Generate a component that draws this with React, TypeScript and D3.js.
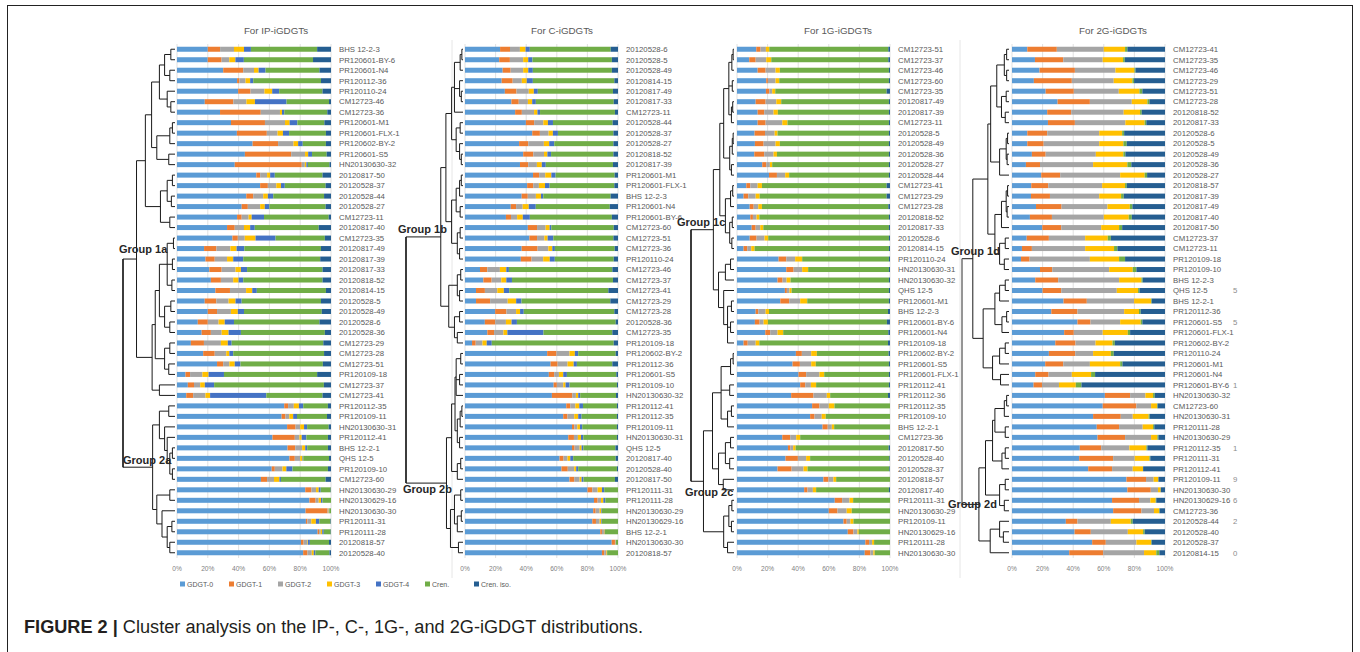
import React from 'react';
import * as d3 from 'd3';

// iGDGT components and their Excel colours
const components = ['GDGT-0', 'GDGT-1', 'GDGT-2', 'GDGT-3', 'GDGT-4', 'Cren.', 'Cren. iso.'];
const colors = ['#5B9BD5', '#ED7D31', '#A5A5A5', '#FFC000', '#4472C4', '#70AD47', '#255E91'];
const tickValues = [0, 0.2, 0.4, 0.6, 0.8, 1];

// ---- IP-iGDGTs ----
const ipLabels = ['BHS 12-2-3', 'PR120601-BY-6', 'PR120601-N4', 'PR120112-36', 'PR120110-24', 'CM12723-46', 'CM12723-36', 'PR120601-M1', 'PR120601-FLX-1', 'PR120602-BY-2', 'PR120601-S5', 'HN20130630-32', '20120817-50', '20120528-37', '20120528-44', '20120528-27', 'CM12723-11', '20120817-40', 'CM12723-35', '20120817-49', '20120817-39', '20120817-33', '20120818-52', '20120814-15', '20120528-5', '20120528-49', '20120528-6', '20120528-36', 'CM12723-29', 'CM12723-28', 'CM12723-51', 'PR120109-18', 'CM12723-37', 'CM12723-41', 'PR120112-35', 'PR120109-11', 'HN20130630-31', 'PR120112-41', 'BHS 12-2-1', 'QHS 12-5', 'PR120109-10', 'CM12723-60', 'HN20130630-29', 'HN20130629-16', 'HN20130630-30', 'PR120111-31', 'PR120111-28', '20120818-57', '20120528-40'];
const ipValues = [
  [20, 8, 9, 6.5, 4.5, 43, 9], [20, 9, 5, 4, 5.5, 45, 11.7], [30, 13, 7, 3, 4.5, 35, 7.5], [39, 1.5, 4, 3, 2, 44, 6.5],
  [39.5, 8, 9, 5, 4.5, 28, 5.5], [18, 18.5, 8.5, 5.5, 20.5, 27.5, 1.3], [28, 26.5, 12.5, 1.3, 1.5, 28, 2.4], [35, 22, 13, 3, 5, 17.5, 4.3],
  [39, 19.5, 7, 3.5, 4, 24, 3.3], [49, 16.5, 10, 3, 3, 15, 3.3], [44, 30, 9, 2, 2.5, 9.5, 2.8], [37.5, 43.5, 2, 1, 1, 14, 1],
  [51.5, 2.5, 4.5, 2, 3, 31, 5.5], [54, 5, 5.5, 3, 2.5, 26.5, 3.5], [45, 4.5, 6.5, 3, 3.5, 33, 4.5], [42, 4, 8, 3, 3, 36.5, 3.5],
  [39, 3, 4.5, 2, 8, 42, 1.5], [32.5, 5, 6, 4, 3, 41.5, 8], [36, 3.5, 4.5, 7, 13, 32, 4], [17.5, 8, 9, 4, 5, 49.5, 6.5],
  [18.5, 6, 8, 4, 6.5, 50, 7], [21, 8, 9, 3.5, 4, 49, 5.5], [22, 6.5, 8, 3.5, 3, 51.5, 5.5], [25, 9.5, 10.5, 4, 3, 45, 3.3],
  [18, 7.5, 8, 4.5, 4, 51.5, 6.5], [20, 6, 9, 4.5, 4, 50.5, 6], [13.5, 6.5, 7, 4, 6, 55.5, 7.5], [16, 6, 7, 4.5, 8, 54.5, 4],
  [9, 8.5, 11, 4.5, 2.5, 59.5, 5], [17, 7.5, 7.5, 2, 2.5, 59, 4.5], [26, 4, 4, 3.5, 3.7, 53.5, 5.3], [5.5, 3, 8, 4, 10, 60.5, 9],
  [7, 4, 4, 3, 6, 71, 4.6], [6, 4.5, 8, 3, 36.5, 36.5, 5.5], [69.5, 2.5, 3.7, 3.3, 2.8, 16, 2], [68, 2.5, 2.5, 2.5, 2.5, 19.5, 2.6],
  [71.5, 5.5, 3, 2.5, 2, 14, 1.5], [62, 14.5, 3, 1.5, 3, 14, 2], [72, 5, 4.5, 2, 1.3, 13.5, 2], [73, 3.5, 3.5, 1.5, 0.5, 16.7, 1.3],
  [61.5, 2, 5, 2.5, 4, 23, 2], [54.5, 4, 4.5, 3.5, 1, 29, 3.5], [83.3, 4, 3, 1.7, 1.3, 6.5, 0.2], [86, 4, 2, 1.5, 1, 5.5, 0],
  [83.5, 14.3, 0.5, 0.3, 0.3, 1.1, 0], [83.7, 1, 2.5, 3, 2.2, 7.3, 0.3], [91.3, 1, 1, 1, 1, 4.5, 0.2], [80.5, 1.7, 2.4, 0.4, 1.3, 12.4, 1.3],
  [82, 2.8, 2.8, 1.3, 1, 9.2, 1],
];
// dendrogram: [height, ...children], a leaf is a row index
const ipTree = [1,
  [0.74,
    [0.57,
      [0.45, [0.3, [0.2, [0.08, 0, 1], [0.1, 2, 3]], [0.15, 4, [0.08, 5, 6]]], [0.35, [0.1, [0.05, 7, 8], 9], [0.12, 10, 11]]],
      [0.28, [0.15, [0.05, 12, 13], [0.07, 14, 15]], [0.1, 16, 17]]],
    [0.44,
      [0.38, [0.3, [0.15, [0.03, 18, 19], [0.05, 20, 21], [0.06, 22, 23]], [0.2, [0.08, 24, 25], [0.1, 26, 27]]], [0.2, [0.1, 28, 29], [0.12, 30, 31]]],
      [0.3, 32, 33]]],
  [0.43,
    [0.3, [0.12, 34, 35], [0.2, 36, [0.15, 37, [0.1, [0.05, 38, 39], [0.05, 40, 41]]]]],
    [0.35, [0.1, 42, 43], [0.25, 44, [0.15, [0.06, 45, 46], [0.1, 47, 48]]]]],
];

// ---- C-iGDGTs ----
const cLabels = ['20120528-6', '20120528-5', '20120528-49', '20120814-15', '20120817-49', '20120817-33', 'CM12723-11', '20120528-44', '20120528-37', '20120528-27', '20120818-52', '20120817-39', 'PR120601-M1', 'PR120601-FLX-1', 'BHS 12-2-3', 'PR120601-N4', 'PR120601-BY-6', 'CM12723-60', 'CM12723-51', 'CM12723-36', 'PR120110-24', 'CM12723-46', 'CM12723-37', 'CM12723-41', 'CM12723-29', 'CM12723-28', '20120528-36', 'CM12723-35', 'PR120109-18', 'PR120602-BY-2', 'PR120112-36', 'PR120601-S5', 'PR120109-10', 'HN20130630-32', 'PR120112-41', 'PR120112-35', 'PR120109-11', 'HN20130630-31', 'QHS 12-5', '20120817-40', '20120528-40', '20120817-50', 'PR120111-31', 'PR120111-28', 'HN20130630-29', 'HN20130629-16', 'BHS 12-2-1', 'HN20130630-30', '20120818-57'];
const cValues = [
  [23, 6.5, 6.5, 3.7, 2.8, 53, 4.8], [22.4, 7, 8.7, 3.3, 2.8, 52, 4], [24.6, 5.2, 8.2, 3.3, 3, 51.6, 4], [24, 7.2, 6, 3.2, 4, 53.3, 2.4],
  [26, 7.6, 8, 3.3, 2.6, 49, 3.3], [30.4, 4.8, 6, 2.8, 2.4, 51, 2.8], [32.8, 4.4, 8, 2.2, 1.7, 49, 2], [39.8, 5.4, 6, 3, 3.3, 39, 3.5],
  [44, 5, 5.7, 2.8, 3.3, 36.3, 3], [35.4, 6, 10.2, 3.5, 3.3, 38.7, 3], [38, 6.6, 7, 2.2, 2.4, 40.7, 3], [36, 5.4, 5.7, 3.2, 2.6, 44, 3.3],
  [44.6, 4, 4, 4, 2.8, 38.7, 2.2], [40.7, 4, 3.7, 4, 3, 42.4, 2.4], [37, 4, 5.3, 3.3, 1.5, 44, 4.8], [30, 3.5, 4.3, 4, 4.6, 48.5, 5.4],
  [26.7, 3.3, 4, 3.7, 4.6, 53.5, 4], [41, 6, 5.6, 2.6, 1.1, 40.7, 2.8], [42, 5, 4.8, 2.1, 3.7, 39.2, 3], [37, 10.4, 7, 2.6, 1.7, 39, 2.2],
  [36.5, 7, 7.6, 4.3, 3.3, 38.5, 2.8], [9.8, 4.8, 8.2, 4.2, 1.7, 67.6, 3.7], [12, 5.4, 6.3, 3.3, 3.7, 66, 3.3], [7.2, 5.8, 8.1, 4.3, 3.5, 64.8, 6.3],
  [7.2, 9.2, 11.5, 5.5, 3.5, 58, 5], [19.7, 7.4, 6.3, 2.6, 2.4, 59.2, 2.4], [13, 6.8, 7, 3.7, 3.5, 64.7, 1.5], [14.6, 4.4, 6.1, 2.6, 23.6, 45, 3.7],
  [4.6, 2.4, 4.4, 2.8, 3.3, 79.7, 2.8], [53.7, 6.1, 8.5, 3.5, 2.2, 24.5, 1.5], [56, 4.6, 6.5, 4, 2.1, 23.2, 3.7], [54.8, 3.5, 3.1, 2.8, 2.4, 32.3, 1.1],
  [58, 2.1, 4.2, 1.5, 2.6, 31, 0.7], [56.8, 13.3, 2.4, 1.5, 1.3, 23.4, 1.3], [66.2, 2.6, 3.3, 2.6, 2.4, 22.2, 0.7], [64.2, 2.8, 4.4, 2.6, 2.2, 23.1, 0.7],
  [70, 1.5, 2, 1.7, 1.5, 22.7, 0.7], [67.5, 3.7, 2.6, 2, 1.5, 22, 0.7], [70, 1.7, 3.3, 1.3, 1.1, 21, 1.7], [61.8, 2.6, 2.6, 1.8, 1.9, 27.8, 1.5],
  [63, 4.1, 4.2, 1.3, 1.3, 25.3, 0.7], [68.3, 3.1, 3.5, 1.3, 1.3, 20.5, 2], [80, 3.1, 3.5, 2.8, 1.5, 9, 0], [84.3, 2.4, 2.2, 1.5, 1.3, 8.3, 0],
  [83.8, 1.6, 2.6, 1.1, 0.4, 10.5, 0], [83.2, 2.4, 2.4, 1.1, 0.4, 10.5, 0], [88.4, 1.1, 1.3, 0.5, 0.2, 8.5, 0], [95.9, 2.1, 0.4, 0.2, 0.1, 1.3, 0],
  [89.5, 1.5, 1.4, 0.4, 0.1, 7.1, 0],
];
const cTree = [1,
  [0.39,
    [0.3,
      [0.2, [0.15, [0.05, [0.02, 0, 1], 2], [0.06, 3, [0.03, 4, 5]], 6], [0.12, [0.05, 7, 8], [0.06, 9, [0.03, 10, 11]]]],
      [0.2, [0.12, [0.06, [0.03, 12, 13], 14], [0.05, 15, 16]], [0.1, [0.05, 17, 18], [0.06, 19, 20]]]],
    [0.25, [0.1, [0.04, 21, 22], [0.06, 23, 24]], [0.15, [0.06, 25, 26], [0.1, 27, 28]]]],
  [0.29,
    [0.2, [0.14, [0.12, [0.04, 29, 30], [0.06, 31, 32], 33], [0.1, [0.05, [0.02, 34, 35], 36], [0.06, 37, 38]]], [0.1, [0.04, 39, 40], 41]],
    [0.22, [0.15, [0.04, 42, 43], [0.1, [0.03, 44, 45], 46]], [0.08, 47, 48]]],
];

// ---- 1G-iGDGTs ----
const g1Labels = ['CM12723-51', 'CM12723-37', 'CM12723-46', 'CM12723-60', 'CM12723-35', '20120817-49', '20120817-39', 'CM12723-11', '20120528-5', '20120528-49', '20120528-36', '20120528-27', '20120528-44', 'CM12723-41', 'CM12723-29', 'CM12723-28', '20120818-52', '20120817-33', '20120528-6', '20120814-15', 'PR120110-24', 'HN20130630-31', 'HN20130630-32', 'QHS 12-5', 'PR120601-M1', 'BHS 12-2-3', 'PR120601-BY-6', 'PR120601-N4', 'PR120109-18', 'PR120602-BY-2', 'PR120601-S5', 'PR120601-FLX-1', 'PR120112-41', 'PR120112-36', 'PR120112-35', 'PR120109-10', 'BHS 12-2-1', 'CM12723-36', '20120817-50', '20120528-40', '20120528-37', '20120818-57', '20120817-40', 'PR120111-31', 'HN20130630-29', 'PR120109-11', 'HN20130629-16', 'PR120111-28', 'HN20130630-30'];
const g1Values = [
  [12.6, 2.8, 3.5, 2.2, 0, 77.8, 1.1], [8, 4.2, 6.9, 3.3, 0, 76.5, 1.1], [13.5, 5.2, 6.5, 2.8, 0, 71.3, 0.7], [19.1, 1.1, 5, 2.4, 0, 71.7, 0.7],
  [18.9, 2.2, 1.9, 2, 0, 72.8, 2.2], [12.2, 6.5, 7, 3.2, 0, 70.4, 0.7], [13.5, 4.3, 6.1, 2.8, 0, 72.6, 0.7], [13.5, 5.2, 10.9, 3.4, 0, 66.3, 0.7],
  [11.5, 6.8, 6.3, 1.9, 0, 72.8, 0.7], [11.7, 5.7, 7.8, 2.8, 0, 71.3, 0.7], [11.3, 6.5, 6.1, 2.2, 0, 73.2, 0.7], [16.5, 2.6, 2.4, 1.5, 0, 76.3, 0.7],
  [20.9, 5.2, 5.4, 2.6, 0, 65.2, 0.7], [6.1, 2.6, 4.8, 2.8, 0, 81.5, 2.2], [4.3, 3.1, 4.8, 2.6, 0, 83, 2.2], [8.3, 2.6, 3, 2.4, 0, 82.6, 1.1],
  [8.7, 1.7, 2.4, 1.8, 0, 84.7, 0.7], [9.6, 2.6, 3, 2, 0, 82.1, 0.7], [8.3, 4.5, 5.2, 2.4, 0, 78.9, 0.7], [4.3, 2.4, 2.6, 2.2, 0, 87.8, 0.7],
  [27.2, 5, 5.8, 4.6, 0, 56.7, 0.7], [32.2, 4.8, 5.6, 3.9, 0, 52.8, 0.7], [26.5, 3.3, 2.6, 2.6, 0, 64.3, 0.7], [31.3, 1.3, 1.7, 1.4, 0, 63.6, 0.7],
  [28.3, 5.8, 7.2, 4.6, 0, 53.4, 0.7], [12.2, 1.7, 4.8, 2.2, 0, 77.8, 1.3], [11.7, 3.1, 2.6, 2.8, 0, 77.8, 2], [18.5, 3.2, 4.8, 3.7, 0, 68.7, 1.1],
  [4.3, 2.7, 5.2, 2.4, 0, 84.1, 1.3], [38.5, 3.9, 6.1, 3.7, 0, 46.9, 0.9], [36.3, 4.8, 7.4, 3, 0, 47.8, 0.7], [40.2, 5, 8.7, 3.1, 0, 42.3, 0.7],
  [41.3, 3.3, 3.7, 3.4, 0, 47.6, 0.7], [35.4, 14.6, 8.7, 2.2, 0, 37.8, 1.3], [49.1, 4.8, 6.1, 3.7, 0, 36.3, 0], [47.8, 2.9, 4.7, 2.6, 0, 42, 0],
  [55.9, 3.4, 2.7, 1.5, 0, 36.5, 0], [29.6, 5.2, 3.9, 2.6, 0, 58.3, 0.4], [33.3, 1.5, 1.9, 1.6, 0, 60.8, 0.9], [31.7, 8.1, 5.4, 2.6, 0, 51.8, 0.4],
  [26.5, 9.2, 7.8, 2.6, 0, 53.5, 0.4], [56.5, 3.3, 3.2, 1.8, 0, 35.2, 0], [43.9, 2.2, 3.5, 2.1, 0, 47.6, 0.7], [63.9, 4.8, 4.8, 2.4, 0, 24.1, 0],
  [60, 5.7, 6, 3.3, 0, 25, 0], [69.6, 2.1, 2.4, 2, 0, 23.9, 0], [72.4, 3.7, 2.6, 0.9, 0, 20.4, 0], [83.9, 2.4, 2, 1.3, 0, 10.4, 0],
  [83.5, 3.7, 1.9, 0.9, 0, 10, 0],
];
const g1Tree = [1,
  [0.48,
    [0.33,
      [0.24, [0.12, [0.05, [0.02, 0, 1], 2], [0.04, 3, 4], [0.06, [0.03, 5, 6], 7]], [0.1, [0.04, [0.02, 8, 9], 10], [0.06, 11, 12]]],
      [0.2, [0.08, [0.03, 13, 14], 15], [0.1, [0.04, 16, 17], [0.05, 18, 19]]]],
    [0.36, [0.2, [0.08, 20, 21], 22], [0.24, 23, [0.15, [0.06, 24, 25], [0.08, 26, 27], 28]]]],
  [0.71,
    [0.5, [0.3, [0.08, [0.02, 29, 30], 31], [0.1, 32, 33], [0.15, [0.06, 34, 35], 36]], [0.36, [0.2, [0.08, 37, 38], [0.1, 39, 40]], [0.25, 41, 42]]],
    [0.24, [0.12, [0.05, 43, 44], [0.06, 45, 46]], [0.15, 47, 48]]],
];

// ---- 2G-iGDGTs ----
const g2Labels = ['CM12723-41', 'CM12723-35', 'CM12723-46', 'CM12723-29', 'CM12723-51', 'CM12723-28', '20120818-52', '20120817-33', '20120528-6', '20120528-5', '20120528-49', '20120528-36', '20120528-27', '20120818-57', '20120817-39', '20120817-49', '20120817-40', '20120817-50', 'CM12723-37', 'CM12723-11', 'PR120109-18', 'PR120109-10', 'BHS 12-2-3', 'QHS 12-5', 'BHS 12-2-1', 'PR120112-36', 'PR120601-S5', 'PR120601-FLX-1', 'PR120602-BY-2', 'PR120110-24', 'PR120601-M1', 'PR120601-N4', 'PR120601-BY-6', 'HN20130630-32', 'CM12723-60', 'HN20130630-31', 'PR120111-28', 'HN20130630-29', 'PR120112-35', 'PR120111-31', 'PR120112-41', 'PR120109-11', 'HN20130630-30', 'HN20130629-16', 'CM12723-36', '20120528-44', '20120528-40', '20120528-37', '20120814-15'];
const g2Values = [
  [10, 19.3, 30.7, 13.9, 0, 1.5, 24.6], [15, 18.5, 25.8, 13.3, 0, 1.1, 26.3], [18, 23.1, 26.5, 12.4, 0, 0.7, 19.3], [14.3, 24.8, 27.4, 12.2, 0, 1.1, 20.2],
  [22, 18.4, 29.4, 13.5, 0, 1.9, 14.8], [29.8, 21.1, 27.4, 10.2, 0, 1.3, 10.2], [23, 15.7, 34.3, 10.7, 0, 1.1, 15.2], [23.5, 17.6, 33, 12.6, 0, 1.1, 12.2],
  [10, 13, 34, 15, 0, 1.3, 26.7], [10, 10.7, 36.3, 15.8, 0, 2.2, 25], [13, 9, 32.8, 18, 0, 1.3, 25.9], [9.1, 9.2, 34.7, 22.4, 0, 2.6, 22],
  [19.1, 12.4, 39.2, 16, 0, 1.6, 11.7], [12.6, 11.1, 35.2, 15, 0, 1.1, 25], [12.4, 12.4, 32.2, 14.3, 0, 1.7, 27], [15.7, 16.7, 30, 14.6, 0, 1.7, 21.3],
  [11.7, 14.4, 33.9, 16.3, 0, 2, 21.7], [19.8, 12.4, 26.1, 11.7, 0, 2, 28], [9.6, 14.5, 23.7, 14.8, 0, 2, 35.4], [6.5, 6.5, 34.8, 18.9, 0, 2.2, 31.1],
  [5.9, 5.6, 39.4, 19.1, 0, 3.9, 26.1], [18.3, 8, 37.2, 15.4, 0, 2.4, 18.7], [15.2, 15, 39.8, 14.6, 0, 0.8, 14.6], [20, 12.2, 36.3, 13.9, 0, 0.9, 16.7],
  [33.7, 15.2, 30.9, 11.1, 0, 0.4, 8.7], [25.7, 17.1, 30.5, 9.7, 0, 1.1, 15.9], [42.8, 8.5, 19.4, 13.4, 0, 1.1, 14.8], [34.1, 6.3, 18.9, 16.4, 0, 1.5, 22.8],
  [28.3, 13.2, 13.1, 11.1, 0, 1.5, 32.8], [24.1, 17.2, 11.7, 11.6, 0, 1.9, 33.5], [21.7, 11.8, 17.4, 19.8, 0, 1.5, 27.8], [15.2, 8.7, 15.2, 12.6, 0, 2.6, 45.7],
  [14.1, 5.5, 11.1, 11, 0, 3.7, 54.6], [60.7, 16.5, 10, 5, 0, 1.1, 6.7], [59.3, 22, 9.6, 3.9, 0, 0.4, 4.8], [53, 18.1, 7.8, 10.4, 0, 0.7, 10],
  [55.4, 14.6, 15.4, 6.8, 0, 0.8, 7], [55.9, 18, 17, 4.1, 0, 0.7, 4.3], [44.3, 14, 18.4, 11.1, 0, 0.7, 11.5], [43.9, 22.2, 14.1, 9.6, 0, 0.6, 9.6],
  [49.8, 15.6, 13.5, 6.8, 0, 0, 14.3], [74.8, 12.8, 5, 3.1, 0, 0, 4.3], [75.4, 15.3, 4.7, 1.8, 0, 0, 2.8], [65.4, 17.6, 7.4, 3.5, 0, 0.4, 5.7],
  [66.1, 18.5, 8.2, 3.3, 0, 0.4, 3.5], [35.2, 7.6, 21.8, 13, 0, 1.3, 21.1], [40.9, 10.6, 24.2, 10, 0, 1, 13.3], [52.4, 8.9, 20, 9.6, 0, 0.4, 8.7],
  [37.4, 22.2, 26.7, 8, 0, 2, 3.7],
];
const g2Tree = [1,
  [0.77,
    [0.45,
      [0.39, [0.26, [0.1, [0.05, 0, 1], [0.05, 2, 3]], [0.16, [0.06, 4, 5], [0.08, 6, 7]]], [0.2, [0.06, [0.03, 8, 9], [0.04, 10, 11]], 12]],
      [0.3, [0.16, [0.06, [0.03, 13, 14], [0.04, 15, 16]], 17], [0.2, [0.08, 18, 19], [0.1, 20, 21]]]],
    [0.55, [0.3, [0.2, [0.08, 22, 23], 24], [0.15, [0.05, 25, 26], 27]], [0.35, [0.2, [0.08, 28, 29], 30], [0.18, 31, 32]]]],
  [0.64,
    [0.5, [0.35, [0.3, [0.1, [0.05, 33, 34], 35], [0.08, 36, 37]], [0.15, [0.08, 38, 39], 40]], [0.2, [0.08, 41, 42], [0.1, 43, 44]]],
    [0.4, [0.2, 45, [0.12, 46, 47]], 48]],
];

// clipped fragments of hidden labels at the right of the last panel
const strayRows = [23, 26, 32, 38, 41, 43, 45, 48];
const strayChars = ['5', '5', '1', '1', '9', '6', '2', '0'];

const panels = [
  { title: 'For IP-iGDGTs', labels: ipLabels, values: ipValues, tree: ipTree, groups: ['Group 1a', 'Group 2a'],
    x0: 177, x1: 331, titleX: 276, leafX: 175, rootX: 123, gDx: [-4, 0], gDy: [-6, -3], rootColor: '#1a1a1a' },
  { title: 'For C-iGDGTs', labels: cLabels, values: cValues, tree: cTree, groups: ['Group 1b', 'Group 2b'],
    x0: 465, x1: 618, titleX: 562, leafX: 463, rootX: 406, gDx: [-8, -3], gDy: [-4, 10], rootColor: '#1a1a1a' },
  { title: 'For 1G-iGDGTs', labels: g1Labels, values: g1Values, tree: g1Tree, groups: ['Group 1c', 'Group 2c'],
    x0: 737, x1: 890, titleX: 838, leafX: 734, rootX: 691, gDx: [-14, -6], gDy: [-4, 15], rootColor: '#1a1a1a' },
  { title: 'For 2G-iGDGTs', labels: g2Labels, values: g2Values, tree: g2Tree, groups: ['Group 1d', 'Group 2d'],
    x0: 1012, x1: 1165, titleX: 1113, leafX: 1009, rootX: 962, gDx: [-11, -14], gDy: [-4, 4], rootColor: '#9a9a9a' },
];

const TOP = 44;
const BOTTOM = 558;
const FONT = 'Liberation Sans, Arial, sans-serif';

type Pt = { x: number; y: number; kids: Pt[] };

function layoutTree(t: any, hx: (v: number) => number, yc: (i: number) => number, segs: number[][]): Pt {
  if (typeof t === 'number') return { x: hx(0), y: yc(t), kids: [] };
  const [h, ...children] = t;
  const kids = children.map((c: any) => layoutTree(c, hx, yc, segs));
  const x = hx(h);
  const y = (kids[0].y + kids[kids.length - 1].y) / 2;
  segs.push([x, kids[0].y, x, kids[kids.length - 1].y]);
  kids.forEach((k: Pt) => segs.push([x, k.y, k.x, k.y]));
  return { x, y, kids };
}

function Panel({ p }: { p: typeof panels[number] }) {
  const n = p.labels.length;
  const x = d3.scaleLinear().domain([0, 1]).range([p.x0, p.x1]);
  const y = d3.scaleBand<number>().domain(d3.range(n)).range([TOP, BOTTOM]);
  const barH = 5;
  const yc = (i: number) => (y(i) as number) + y.bandwidth() / 2;
  const rows = p.values.map((v) => v.slice());
  const series = d3.stack<number[], number>()
    .keys(d3.range(components.length))
    .value((d, k) => d[k])
    .offset(d3.stackOffsetExpand)(rows);

  const hx = d3.scaleLinear().domain([0, 1]).range([p.leafX, p.rootX]);
  const segs: number[][] = [];
  const root = layoutTree(p.tree, hx, yc, segs);
  const rootSeg = segs[segs.length - 1 - root.kids.length];

  return (
    <g>
      <text x={p.titleX} y={33.5} textAnchor="middle" fontSize={9.8} fill="#595959" fontFamily={FONT}>{p.title}</text>
      {tickValues.map((t) => (
        <line key={'g' + t} x1={x(t)} x2={x(t)} y1={TOP} y2={BOTTOM} stroke="#d9d9d9" strokeWidth={0.8} />
      ))}
      {series.map((s, si) => (
        <g key={si} fill={colors[si]}>
          {s.map((d, i) => (
            <rect key={i} x={x(d[0])} y={yc(i) - barH / 2} width={Math.max(0, x(d[1]) - x(d[0]))} height={barH} />
          ))}
        </g>
      ))}
      {p.labels.map((l, i) => (
        <text key={'l' + i} x={p.x1 + 8} y={yc(i) + 2.8} fontSize={7.8} fill="#595959" fontFamily={FONT}>{l}</text>
      ))}
      {tickValues.map((t) => (
        <text key={'t' + t} x={x(t)} y={570.5} textAnchor="middle" fontSize={6.6} fill="#7f7f7f" fontFamily={FONT}>
          {d3.format('.0%')(t)}
        </text>
      ))}
      <g stroke="#1a1a1a" strokeWidth={1}>
        {segs.map((s, i) => (
          <line key={'s' + i} x1={s[0]} y1={s[1]} x2={s[2]} y2={s[3]} />
        ))}
      </g>
      <line x1={rootSeg[0]} y1={rootSeg[1]} x2={rootSeg[2]} y2={rootSeg[3]} stroke={p.rootColor} strokeWidth={1.4} />
      {root.kids.map((k, i) => (
        <text key={'grp' + i} x={root.x + p.gDx[i]} y={k.y + p.gDy[i]} fontSize={11} fontWeight="bold"
          fill="#262626" fontFamily={FONT}>{p.groups[i]}</text>
      ))}
    </g>
  );
}

export default function App() {
  const last = panels[3];
  const yLast = d3.scaleBand<number>().domain(d3.range(last.labels.length)).range([TOP, BOTTOM]);
  const legendX = d3.scalePoint<string>().domain(components).range([180, 474]);
  return (
    <svg width={1360} height={652} style={{ position: 'absolute', left: 0, top: 0, background: '#fff' }}>
      <rect x={7.5} y={5.5} width={1345} height={700} fill="#fff" stroke="#222" strokeWidth={1} />
      <line x1={452} x2={452} y1={40} y2={578} stroke="#e6e6e6" />
      <line x1={960} x2={960} y1={40} y2={578} stroke="#e6e6e6" />
      {panels.map((p, i) => <Panel key={i} p={p} />)}
      {strayRows.map((r, i) => (
        <text key={'st' + i} x={1233} y={(yLast(r) as number) + yLast.bandwidth() / 2 + 2.8} fontSize={7.8}
          fill="#8c8c8c" fontFamily={FONT}>{strayChars[i]}</text>
      ))}
      {components.map((c, i) => (
        <g key={c} transform={`translate(${legendX(c)},584)`}>
          <rect x={0} y={-2.5} width={5} height={5} fill={colors[i]} />
          <text x={7} y={2.5} fontSize={7} fill="#595959" fontFamily={FONT}>{c}</text>
        </g>
      ))}
      <text x={24} y={633} fontSize={18} fill="#231f20" fontFamily={FONT} textLength={619} lengthAdjust="spacingAndGlyphs">
        <tspan fontWeight="bold">FIGURE 2 | </tspan>
        <tspan>Cluster analysis on the IP-, C-, 1G-, and 2G-iGDGT distributions.</tspan>
      </text>
    </svg>
  );
}
